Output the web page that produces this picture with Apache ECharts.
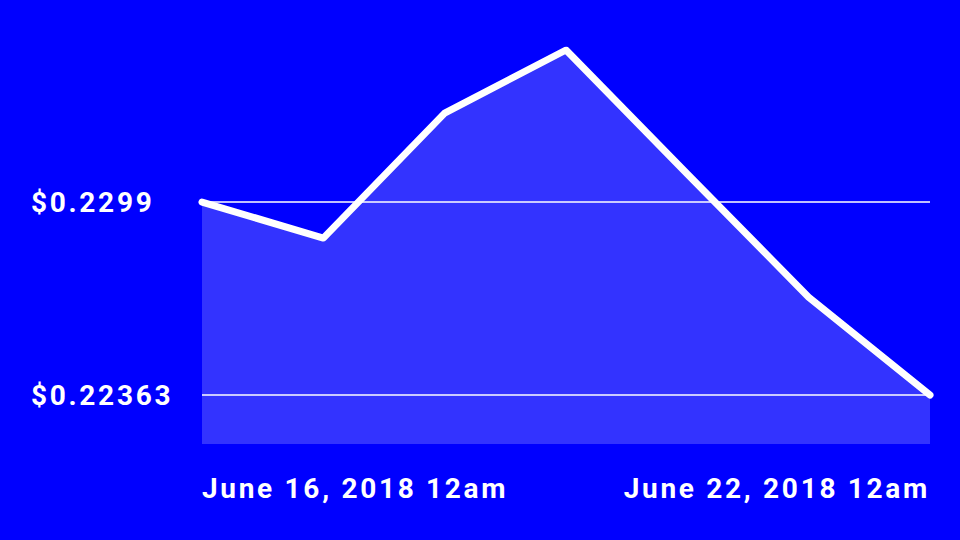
<!DOCTYPE html>
<html>
<head>
<meta charset="utf-8">
<script src="https://cdn.jsdelivr.net/npm/echarts@6/dist/echarts.min.js"></script>
<style>
  html, body { margin: 0; padding: 0; background: #0000ff; }
  #chart { width: 960px; height: 540px; }
  #chart text { letter-spacing: 2.7px; }
</style>
</head>
<body>
<div id="chart"></div>
<script>
const categories = ['June 16, 2018 12am', 'June 17, 2018 12am', 'June 18, 2018 12am', 'June 19, 2018 12am', 'June 20, 2018 12am', 'June 21, 2018 12am', 'June 22, 2018 12am'];
const prices = [0.2299, 0.22873, 0.23279, 0.23484, 0.23081, 0.22681, 0.22363];
const yTicks = [0.22363, 0.2299];
const yMin = 0.22204;
const yMax = 0.23484;

const chart = echarts.init(document.getElementById('chart'), null, { renderer: 'svg' });
chart.setOption({
  backgroundColor: '#0000ff',
  animation: false,
  grid: { left: 202, right: 30, top: 50, bottom: 96 },
  xAxis: {
    type: 'category',
    data: categories,
    boundaryGap: false,
    axisLine: { show: false },
    axisTick: { show: false },
    splitLine: { show: false },
    axisLabel: {
      color: '#ffffff',
      fontFamily: 'Roboto',
      fontWeight: 'bold',
      fontSize: 28,
      margin: 30,
      interval: function (i) { return i === 0 || i === categories.length - 1; },
      alignMinLabel: 'left',
      alignMaxLabel: 'right'
    }
  },
  yAxis: {
    type: 'value',
    min: yMin,
    max: yMax,
    axisLine: { show: false },
    axisTick: { show: false, customValues: yTicks },
    splitLine: { show: true, lineStyle: { color: '#ffffff', width: 1.5 } },
    axisLabel: {
      customValues: yTicks,
      color: '#ffffff',
      fontFamily: 'Roboto',
      fontWeight: 'bold',
      fontSize: 28,
      align: 'left',
      margin: 171,
      formatter: function (v) { return '$' + v; }
    }
  },
  series: [{
    type: 'line',
    data: prices,
    showSymbol: false,
    symbol: 'none',
    lineStyle: { color: '#ffffff', width: 7, cap: 'round', join: 'round' },
    areaStyle: { color: 'rgba(255,255,255,0.2)', opacity: 1, origin: 'start' }
  }]
});
</script>
</body>
</html>
